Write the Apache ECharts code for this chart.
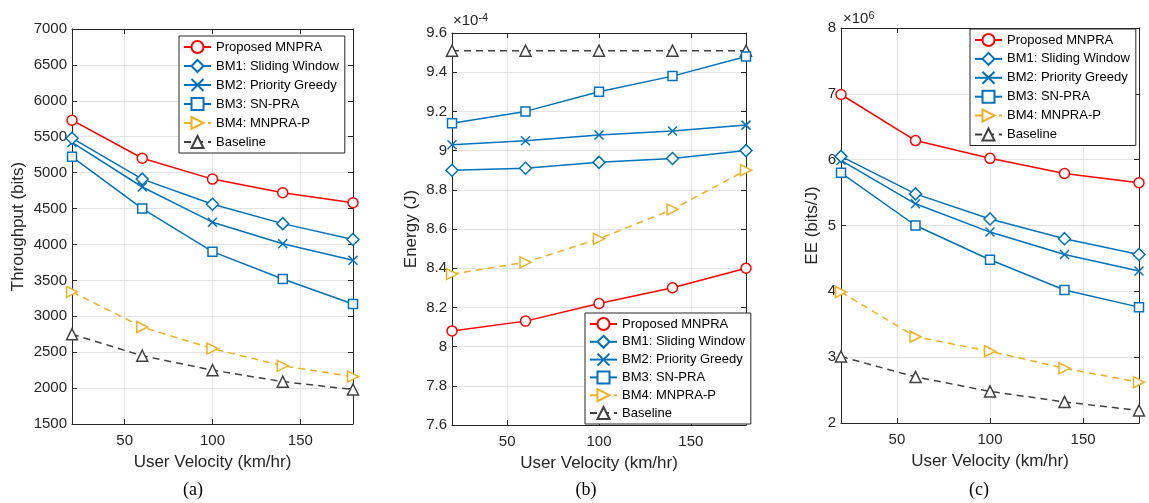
<!DOCTYPE html>
<html>
<head>
<meta charset="utf-8">
<script src="https://cdn.jsdelivr.net/npm/echarts@6/dist/echarts.min.js"></script>
<style>
  html, body { margin: 0; padding: 0; background: #fff; }
  #main { width: 1149px; height: 503px; }
</style>
</head>
<body>
<div id="main"></div>
<script>
// user velocity (km/hr)
var velocity = [20, 60, 100, 140, 180];
var seriesNames = ['Proposed MNPRA', 'BM1: Sliding Window', 'BM2: Priority Greedy', 'BM3: SN-PRA', 'BM4: MNPRA-P', 'Baseline'];

// (a) throughput (bits)
var tpProposed = [5730, 5200, 4910, 4720, 4580];
var tpBM1 = [5480, 4910, 4560, 4290, 4070];
var tpBM2 = [5420, 4800, 4310, 4010, 3780];
var tpBM3 = [5220, 4500, 3900, 3520, 3170];
var tpBM4 = [3340, 2850, 2550, 2310, 2160];
var tpBaseline = [2750, 2450, 2250, 2090, 1980];

// (b) energy (J), in units of 1e-4
var enProposed = [8.08, 8.13, 8.22, 8.30, 8.40];
var enBM1 = [8.90, 8.91, 8.94, 8.96, 9.00];
var enBM2 = [9.03, 9.05, 9.08, 9.10, 9.13];
var enBM3 = [9.14, 9.20, 9.30, 9.38, 9.48];
var enBM4 = [8.37, 8.43, 8.55, 8.70, 8.90];
var enBaseline = [9.51, 9.51, 9.51, 9.51, 9.51];

// (c) energy efficiency (bits/J), in units of 1e6
var eeProposed = [6.99, 6.29, 6.02, 5.79, 5.65];
var eeBM1 = [6.05, 5.48, 5.10, 4.80, 4.56];
var eeBM2 = [5.99, 5.33, 4.90, 4.56, 4.31];
var eeBM3 = [5.80, 5.00, 4.48, 4.02, 3.76];
var eeBM4 = [3.99, 3.31, 3.09, 2.83, 2.62];
var eeBaseline = [3.01, 2.70, 2.48, 2.32, 2.19];

var xTicks = [50, 100, 150];

var chart = echarts.init(document.getElementById('main'));

var FONT = 'Liberation Sans';
var AXIS_COLOR = '#262626';
var GRID_COLOR = '#e3e3e3';

// line styles per method
var styles = [
    {color: '#ff0000', symbol: 'circle', size: 10, dash: 'solid'},
    {color: '#0072bd', symbol: 'diamond', size: 12, dash: 'solid'},
    {color: '#0072bd', symbol: 'path://M0,0L10,10M10,0L0,10', size: 9, dash: 'solid'},
    {color: '#0072bd', symbol: 'rect', size: 9, dash: 'solid'},
    {color: '#edb120', symbol: 'path://M0,0L10,5L0,10Z', size: 11, dash: [7, 5]},
    {color: '#404040', symbol: 'triangle', size: 11, dash: [7, 5]}
];

var panels = [
    {left: 72, top: 29, width: 281, height: 395, min: 1500, max: 7000, interval: 500, name: 'Throughput (bits)', nameGap: 45,
     data: [tpProposed, tpBM1, tpBM2, tpBM3, tpBM4, tpBaseline]},
    {left: 452, top: 33, width: 294, height: 392, min: 7.6, max: 9.6, interval: 0.2, name: 'Energy (J)', nameGap: 32,
     data: [enProposed, enBM1, enBM2, enBM3, enBM4, enBaseline]},
    {left: 841, top: 28, width: 298, height: 395, min: 2, max: 8, interval: 1, name: 'EE (bits/J)', nameGap: 20,
     data: [eeProposed, eeBM1, eeBM2, eeBM3, eeBM4, eeBaseline]}
];

function plainNumber(v) {
    return String(parseFloat(v.toFixed(4)));
}

var grids = [], xAxes = [], yAxes = [], series = [];

panels.forEach(function (p, i) {
    grids.push({left: p.left, top: p.top, width: p.width, height: p.height, show: false});
    var axisLine = {show: true, onZero: false, lineStyle: {color: AXIS_COLOR, width: 1}};
    xAxes.push({
        type: 'value', gridIndex: i, min: 20, max: 180, position: 'bottom',
        axisLine: axisLine,
        axisTick: {inside: true, length: 5, customValues: xTicks, lineStyle: {color: AXIS_COLOR}},
        axisLabel: {customValues: xTicks, color: AXIS_COLOR, fontFamily: FONT, fontSize: 15, margin: 9, formatter: plainNumber},
        splitLine: {show: true, lineStyle: {color: GRID_COLOR}},
        name: 'User Velocity (km/hr)', nameLocation: 'middle', nameGap: 30,
        nameTextStyle: {color: AXIS_COLOR, fontFamily: FONT, fontSize: 17}
    });
    xAxes.push({
        type: 'value', gridIndex: i, min: 20, max: 180, position: 'top',
        axisLine: axisLine,
        axisTick: {inside: true, length: 5, customValues: xTicks, lineStyle: {color: AXIS_COLOR}},
        axisLabel: {show: false}, splitLine: {show: false}
    });
    yAxes.push({
        type: 'value', gridIndex: i, min: p.min, max: p.max, interval: p.interval, position: 'left',
        axisLine: axisLine,
        axisTick: {show: true, inside: true, length: 5, lineStyle: {color: AXIS_COLOR}},
        axisLabel: {color: AXIS_COLOR, fontFamily: FONT, fontSize: 15, margin: 5, formatter: plainNumber},
        splitLine: {show: true, lineStyle: {color: GRID_COLOR}},
        name: p.name, nameLocation: 'middle', nameGap: p.nameGap, nameRotate: 90,
        nameTextStyle: {color: AXIS_COLOR, fontFamily: FONT, fontSize: 17}
    });
    yAxes.push({
        type: 'value', gridIndex: i, min: p.min, max: p.max, interval: p.interval, position: 'right',
        axisLine: axisLine,
        axisTick: {show: true, inside: true, length: 5, lineStyle: {color: AXIS_COLOR}},
        axisLabel: {show: false}, splitLine: {show: false}
    });
    p.data.forEach(function (vals, k) {
        var s = styles[k];
        series.push({
            name: seriesNames[k],
            type: 'line',
            xAxisIndex: i * 2,
            yAxisIndex: i * 2,
            data: velocity.map(function (v, j) { return [v, vals[j]]; }),
            symbol: s.symbol,
            symbolSize: s.size,
            showAllSymbol: true,
            lineStyle: {color: s.color, width: 1.5, type: s.dash},
            itemStyle: {color: '#fff', borderColor: s.color, borderWidth: 1.5},
            emphasis: {disabled: true},
            animation: false,
            z: 10 - k
        });
    });
});

function legendAt(left, top, gap) {
    return {
        orient: 'vertical', left: left, top: top,
        data: seriesNames,
        itemWidth: 27, itemHeight: 15, itemGap: gap,
        padding: [4, 6, 4, 4],
        backgroundColor: '#fff',
        borderColor: AXIS_COLOR, borderWidth: 1, borderRadius: 0,
        selectedMode: false,
        textStyle: {color: '#000', fontFamily: FONT, fontSize: 13, lineHeight: 14}
    };
}

var option = {
    backgroundColor: '#fff',
    animation: false,
    grid: grids,
    xAxis: xAxes,
    yAxis: yAxes,
    legend: [legendAt(179, 36, 5.0), legendAt(585, 313, 3.8), legendAt(970, 29, 4.9)],
    series: series,
    graphic: [
        {type: 'text', left: 453, top: 12, style: {
            text: '×10{s|-4}', fill: AXIS_COLOR, font: '15px "Liberation Sans"',
            rich: {s: {fontSize: 11, verticalAlign: 'top', fontFamily: FONT, fill: AXIS_COLOR, padding: [0, 0, 6, 0]}}}},
        {type: 'text', left: 843, top: 10, style: {
            text: '×10{s|6}', fill: AXIS_COLOR, font: '15px "Liberation Sans"',
            rich: {s: {fontSize: 11, verticalAlign: 'top', fontFamily: FONT, fill: AXIS_COLOR, padding: [0, 0, 6, 0]}}}},
        {type: 'text', x: 193, y: 490, style: {text: '(a)', fill: '#000', font: '18px "Liberation Serif"', align: 'center', verticalAlign: 'middle'}},
        {type: 'text', x: 586, y: 490, style: {text: '(b)', fill: '#000', font: '18px "Liberation Serif"', align: 'center', verticalAlign: 'middle'}},
        {type: 'text', x: 979, y: 490, style: {text: '(c)', fill: '#000', font: '18px "Liberation Serif"', align: 'center', verticalAlign: 'middle'}}
    ]
};

chart.setOption(option);
</script>
</body>
</html>
